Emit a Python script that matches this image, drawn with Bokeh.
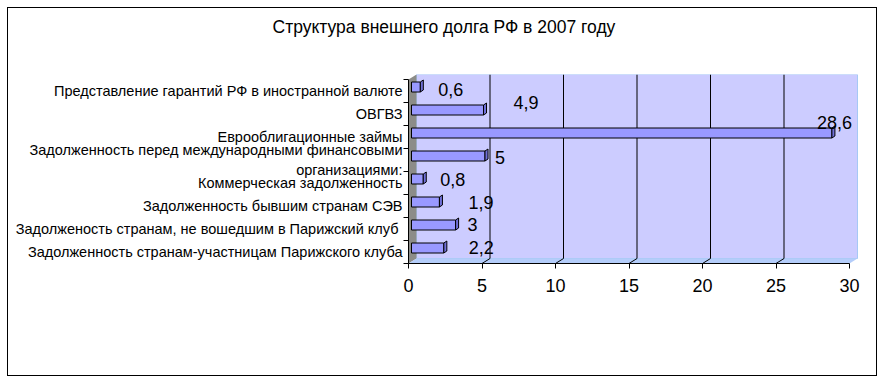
from bokeh.plotting import figure
from bokeh.models import Range1d, FixedTicker, Title
from bokeh.embed import file_html
from bokeh.resources import INLINE
from bokeh.core.properties import value

# ---- data (bottom to top) ----
categories = [
    "Задолженность странам-участницам Парижского клуба",
    "Задолженость странам, не вошедшим в  Парижский клуб",
    "Задолженность бывшим странам СЭВ",
    "Коммерческая задолженность",
    "Задолженность перед международными финансовыми\nорганизациями:",
    "Еврооблигационные займы",
    "ОВГВЗ",
    "Представление гарантий РФ в иностранной валюте",
]
values = [2.2, 3, 1.9, 0.8, 5, 28.6, 4.9, 0.6]
value_labels = ["2,2", "3", "1,9", "0,8", "5", "28,6", "4,9", "0,6"]
x_ticks = [0, 5, 10, 15, 20, 25, 30]
title_text = "Структура внешнего долга РФ в 2007 году"

# label nudges in screen px (style only)
lab_dx = [28, 15, 32, 20, 13, -12, 33, 21]
lab_dy = [-5, -5, -4, -4, -3, -15, -12, -2]

# ---- geometry / style ----
W, H = 870, 369
FL, FR, FT, FB = 400, 850, 66, 255      # frame edges in canvas px
XMAX = x_ticks[-1]
NCAT = len(categories)
px_x = (841 - FL) / XMAX                # px per x unit
px_y = (FB - 71) / NCAT                 # px per category
x_end = (FR - FL) / px_x
y_end = NCAT + (71 - FT) / px_y

dx, dy = 8 / px_x, 5 / px_y             # wall depth
ox, oy = 3 / px_x, 4 / px_y             # bar offset
bh = 10 / px_y                          # bar thickness
cdx, cdy = 3 / px_x, 2 / px_y           # bar cap depth

p = figure(width=W, height=H, output_backend="svg", toolbar_location=None,
           x_range=Range1d(0, x_end), y_range=Range1d(0, y_end),
           min_border_left=FL, min_border_right=W - FR,
           min_border_top=FT, min_border_bottom=H - FB)
p.styles = {"border": "1px solid black", "margin-left": "7px", "margin-top": "7px"}
p.outline_line_color = None
p.background_fill_color = "white"
p.border_fill_color = "white"
p.xgrid.visible = False
p.ygrid.visible = False

# back wall
p.quad(left=dx, right=XMAX + dx, bottom=dy, top=NCAT + dy,
       fill_color="#ccccff", line_color="#a6c8f5", line_width=1)
# side wall
p.patch([0, dx, dx, 0], [0, dy, NCAT + dy, NCAT], fill_color="#8c8c88", line_color=None)
# floor
p.patch([0, dx, XMAX + dx, XMAX], [0, dy, dy, 0], fill_color="#b4cdfa", line_color=None)

# gridlines on wall
gx, gy = [], []
for t in x_ticks[1:-1]:
    gx.append([t, t + dx, t + dx])
    gy.append([0, dy, NCAT + dy])
p.multi_line(gx, gy, line_color="black", line_width=1)

# bars
centers = [i + 0.5 for i in range(NCAT)]
y0 = [c + oy - bh / 2 for c in centers]
y1 = [c + oy + bh / 2 for c in centers]
right = [v + ox for v in values]
p.quad(left=ox, right=right, bottom=y0, top=y1, fill_color="#9999ff", line_color="black", line_width=1)
cap_xs = [[r, r + cdx, r + cdx, r] for r in right]
cap_ys = [[a, a + cdy, b + cdy, b] for a, b in zip(y0, y1)]
p.patches(cap_xs, cap_ys, fill_color="#7070d8", line_color="black", line_width=1)

# value labels
p.text(x=values, y=centers, text=value_labels, x_offset=lab_dx, y_offset=lab_dy,
       text_font=value("Liberation Sans"), text_font_size="18px",
       text_baseline="middle", text_align="left", text_color="black")

# axes
xa = p.xaxis[0]
xa.ticker = FixedTicker(ticks=x_ticks)
xa.bounds = (0, XMAX)
xa.major_tick_out = 5
xa.major_tick_in = 0
xa.minor_tick_out = 0
xa.minor_tick_in = 0
xa.major_label_standoff = 10
xa.major_label_text_font = "Liberation Sans"
xa.major_label_text_font_size = "18px"
xa.major_label_text_color = "black"
xa.axis_line_color = "black"

ya = p.yaxis[0]
ya.ticker = FixedTicker(ticks=centers, minor_ticks=list(range(NCAT + 1)))
ya.major_label_overrides = {c: cat for c, cat in zip(centers, categories)}
ya.bounds = (0, NCAT)
ya.major_tick_out = 0
ya.major_tick_in = 0
ya.minor_tick_out = 5
ya.minor_tick_in = 0
ya.major_label_standoff = 1
ya.major_label_text_font = "Liberation Sans"
ya.major_label_text_font_size = "14.5px"
ya.major_label_text_color = "black"
ya.axis_line_color = "black"

# spacer between title and frame, then the title above it
p.add_layout(Title(text=" ", text_font_size="10px", standoff=20), "above")
p.add_layout(Title(text=title_text, align="left", offset=-136, standoff=10,
                   text_font="Liberation Sans", text_font_size="17.5px",
                   text_font_style="normal", text_color="black"), "above")

open("out.html", "w").write(file_html(p, INLINE))
